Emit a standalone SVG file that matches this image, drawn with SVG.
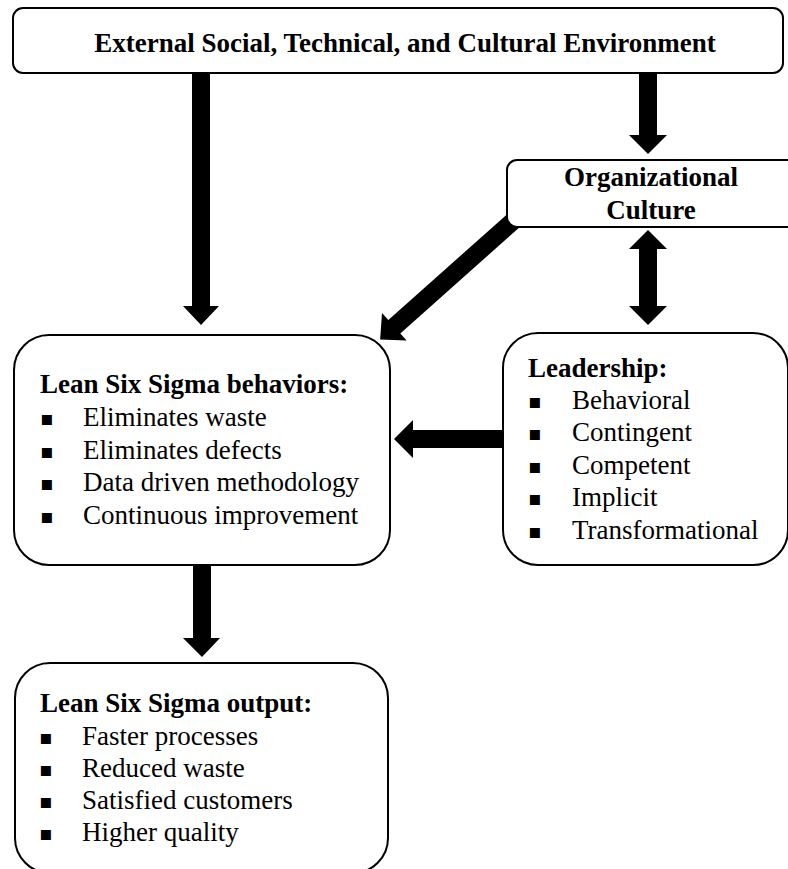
<svg xmlns="http://www.w3.org/2000/svg" width="788" height="869" viewBox="0 0 788 869">
<style>
.box{fill:#fff;stroke:#000;stroke-width:2}
.arr{fill:#000;stroke:none}
.h{font-family:"Liberation Serif","Times New Roman",serif;font-weight:bold;font-size:27px;fill:#000}
.t{font-family:"Liberation Serif","Times New Roman",serif;font-size:27px;fill:#000}
.b{font-family:"DejaVu Sans",sans-serif;font-size:20px;fill:#000}
</style>
<rect width="788" height="869" fill="#fff"/>
<g id="connectors">
  <polygon class="arr" points="192,70 210,70 210,306 219,306 201,325 183,306 192,306"/>
  <polygon class="arr" points="639,70 657,70 657,135 667,135 648,154 629,135 639,135"/>
  <polygon class="arr" points="648,230 667,249 657,249 657,306 667,306 648,325 629,306 639,306 639,249 629,249"/>
  <polygon class="arr" points="506,430 413,430 413,420 394,439 413,458 413,448 506,448"/>
  <polygon class="arr" points="193,560 211,560 211,638 220,638 202,657 183,638 193,638"/>
  <g transform="translate(522,213) rotate(138.3)">
    <polygon class="arr" points="0,-9 171,-9 171,-18.5 190,0 171,18.5 171,9 0,9"/>
  </g>
</g>
<g id="env">
  <rect class="box" x="13" y="8" width="770" height="65" rx="10"/>
  <text class="h" x="405" y="52" text-anchor="middle">External Social, Technical, and Cultural Environment</text>
</g>
<g id="culture">
  <rect class="box" x="507" y="160" width="300" height="67" rx="10"/>
  <text class="h" x="651" y="186" text-anchor="middle">Organizational</text>
  <text class="h" x="651" y="219" text-anchor="middle">Culture</text>
</g>
<g id="behaviors">
  <rect class="box" x="14" y="335" width="376" height="230" rx="35"/>
  <text class="h" x="40" y="393">Lean Six Sigma behaviors:</text>
  <text class="b" x="40" y="425">▪</text><text class="t" x="83" y="426">Eliminates waste</text>
  <text class="b" x="40" y="458">▪</text><text class="t" x="83" y="459">Eliminates defects</text>
  <text class="b" x="40" y="490">▪</text><text class="t" x="83" y="491">Data driven methodology</text>
  <text class="b" x="40" y="523">▪</text><text class="t" x="83" y="524">Continuous improvement</text>
</g>
<g id="leadership">
  <rect class="box" x="503" y="333" width="285" height="232" rx="35"/>
  <text class="h" x="528" y="377">Leadership:</text>
  <text class="b" x="528" y="408">▪</text><text class="t" x="572" y="409">Behavioral</text>
  <text class="b" x="528" y="440">▪</text><text class="t" x="572" y="441">Contingent</text>
  <text class="b" x="528" y="473">▪</text><text class="t" x="572" y="474">Competent</text>
  <text class="b" x="528" y="505">▪</text><text class="t" x="572" y="506">Implicit</text>
  <text class="b" x="528" y="538">▪</text><text class="t" x="572" y="539">Transformational</text>
</g>
<g id="output">
  <rect class="box" x="15" y="663" width="373" height="210" rx="35"/>
  <text class="h" x="40" y="712">Lean Six Sigma output:</text>
  <text class="b" x="39" y="744">▪</text><text class="t" x="82" y="745">Faster processes</text>
  <text class="b" x="39" y="776">▪</text><text class="t" x="82" y="777">Reduced waste</text>
  <text class="b" x="39" y="808">▪</text><text class="t" x="82" y="809">Satisfied customers</text>
  <text class="b" x="39" y="840">▪</text><text class="t" x="82" y="841">Higher quality</text>
</g>
</svg>
